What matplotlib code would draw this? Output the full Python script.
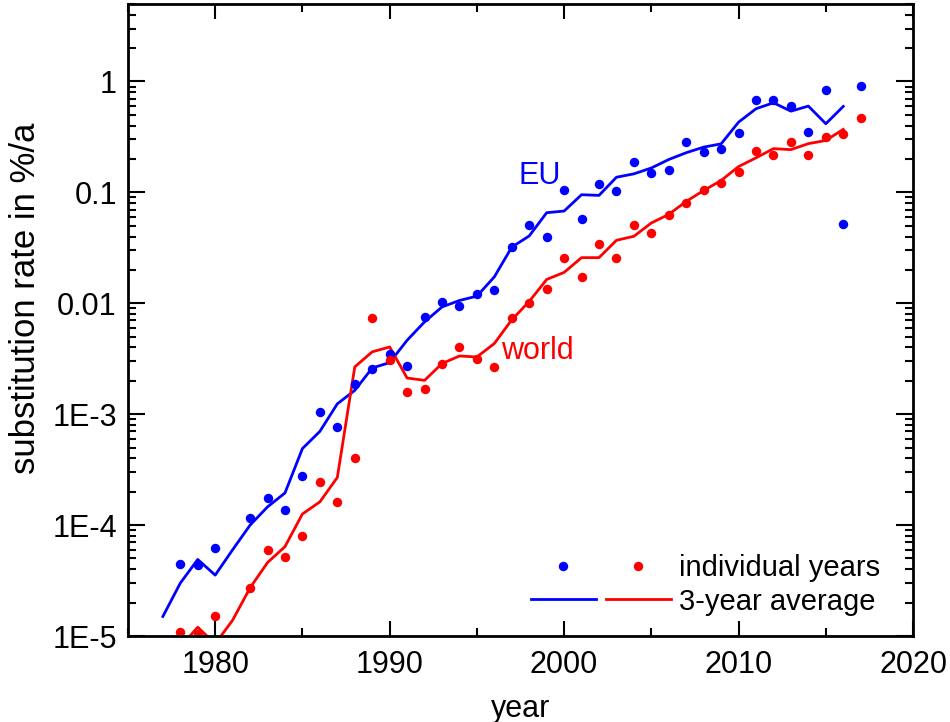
import matplotlib
matplotlib.use('Agg')
import matplotlib.pyplot as plt
from matplotlib.ticker import FixedLocator, LogLocator, NullFormatter, MultipleLocator
from matplotlib.legend_handler import HandlerTuple

plt.rcParams['font.family'] = ['Liberation Sans', 'DejaVu Sans']

# individual years (dots)
eu_years = [1978, 1979, 1980, 1982, 1983, 1984, 1985, 1986, 1987, 1988, 1989, 1990,
            1991, 1992, 1993, 1994, 1995, 1996, 1997, 1998, 1999, 2000, 2001, 2002,
            2003, 2004, 2005, 2006, 2007, 2008, 2009, 2010, 2011, 2012, 2013, 2014,
            2015, 2016, 2017]
eu_rate = [4.45e-5, 4.36e-5, 6.24e-5, 1.17e-4, 1.74e-4, 1.36e-4, 2.78e-4, 1.05e-3,
           7.7e-4, 1.86e-3, 2.58e-3, 3.52e-3, 2.72e-3, 7.53e-3, 1.03e-2, 9.5e-3,
           1.22e-2, 1.31e-2, 3.21e-2, 5.08e-2, 3.93e-2, 0.106, 5.75e-2, 0.12, 0.102,
           0.187, 0.150, 0.158, 0.284, 0.231, 0.246, 0.340, 0.684, 0.674, 0.604,
           0.352, 0.841, 5.22e-2, 0.902]

world_years = [1978, 1979, 1980, 1982, 1983, 1984, 1985, 1986, 1987, 1988, 1989, 1990,
               1991, 1992, 1993, 1994, 1995, 1996, 1997, 1998, 1999, 2000, 2001, 2002,
               2003, 2004, 2005, 2006, 2007, 2008, 2009, 2010, 2011, 2012, 2013, 2014,
               2015, 2016, 2017]
world_rate = [1.08e-5, 1.05e-5, 1.51e-5, 2.72e-5, 5.96e-5, 5.18e-5, 8.0e-5, 2.45e-4,
              1.6e-4, 4.04e-4, 7.37e-3, 3.11e-3, 1.58e-3, 1.68e-3, 2.86e-3, 4.02e-3,
              3.13e-3, 2.65e-3, 7.37e-3, 1.01e-2, 1.35e-2, 2.56e-2, 1.73e-2, 3.40e-2,
              2.56e-2, 5.12e-2, 4.30e-2, 6.21e-2, 8.01e-2, 0.106, 0.121, 0.152, 0.236,
              0.219, 0.284, 0.219, 0.318, 0.338, 0.471]

# 3-year averages (lines)
eu_avg_years = list(range(1977, 2017))
eu_avg = [1.5e-5, 3.0e-5, 4.9e-5, 3.54e-5, 6.0e-5, 1.0e-4, 1.46e-4, 1.95e-4, 4.9e-4,
          7.0e-4, 1.24e-3, 1.64e-3, 2.61e-3, 2.92e-3, 4.64e-3, 6.8e-3, 9.27e-3,
          1.06e-2, 1.16e-2, 1.73e-2, 3.21e-2, 4.05e-2, 6.56e-2, 6.79e-2, 9.53e-2,
          9.4e-2, 0.137, 0.147, 0.166, 0.198, 0.228, 0.256, 0.274, 0.43, 0.568,
          0.643, 0.54, 0.60, 0.416, 0.596]

world_avg_years = list(range(1977, 2017))
world_avg = [6e-6, 8e-6, 1.2e-5, 8.5e-6, 1.39e-5, 2.72e-5, 4.6e-5, 6.4e-5, 1.26e-4,
             1.62e-4, 2.69e-4, 2.67e-3, 3.65e-3, 4.04e-3, 2.12e-3, 2.02e-3, 2.86e-3,
             3.35e-3, 3.28e-3, 4.34e-3, 7.1e-3, 1.04e-2, 1.64e-2, 1.9e-2, 2.58e-2,
             2.58e-2, 3.7e-2, 4.02e-2, 5.3e-2, 6.34e-2, 8.3e-2, 0.104, 0.128, 0.171,
             0.205, 0.248, 0.243, 0.275, 0.294, 0.37]

blue = '#0000ff'
red = '#ff0000'
fs = 22

fig = plt.figure(figsize=(9.5, 7.22), dpi=100)
ax = fig.add_axes([0.1347, 0.1191, 0.9611 - 0.1347, 0.9945 - 0.1191])

eu_line, = ax.plot(eu_avg_years, eu_avg, color=blue, lw=2.0)
w_line, = ax.plot(world_avg_years, world_avg, color=red, lw=2.0)
eu_dots, = ax.plot(eu_years, eu_rate, 'o', color=blue, ms=6.8, mew=0)
w_dots, = ax.plot(world_years, world_rate, 'o', color=red, ms=6.8, mew=0)

ax.set_yscale('log')
ax.set_xlim(1975, 2020)
ax.set_ylim(1e-5, 5)

ax.xaxis.set_major_locator(MultipleLocator(10))
ax.xaxis.set_minor_locator(MultipleLocator(5))
ax.yaxis.set_major_locator(FixedLocator([1e-5, 1e-4, 1e-3, 1e-2, 1e-1, 1]))
ax.yaxis.set_minor_locator(LogLocator(base=10, subs=range(2, 10), numticks=20))
ax.yaxis.set_minor_formatter(NullFormatter())
ax.set_yticklabels(['1E-5', '1E-4', '1E-3', '0.01', '0.1', '1'])

ax.tick_params(which='both', direction='in', top=True, right=True, labelsize=fs, width=1.5)
ax.tick_params(axis='x', which='major', length=11, pad=10)
ax.tick_params(axis='x', which='minor', length=6)
ax.tick_params(axis='y', which='major', length=12, pad=8)
ax.tick_params(axis='y', which='minor', length=6)
for s in ax.spines.values():
    s.set_linewidth(2)

ax.set_xlabel('year', fontsize=fs, labelpad=10)
ax.set_ylabel('substitution rate in %/a', fontsize=25)
ax.yaxis.set_label_coords(-0.11, 0.535)

ax.text(1998.6, 0.142, 'EU', color=blue, fontsize=fs, ha='center', va='center')
ax.text(1996.4, 3.7e-3, 'world', color=red, fontsize=fs, ha='left', va='center')

ax.legend([(eu_dots, w_dots), (eu_line, w_line)], ['individual years', '3-year average'],
          handler_map={tuple: HandlerTuple(ndivide=None, pad=0.35)},
          loc='lower right', bbox_to_anchor=(0.966, 0.023), frameon=False, fontsize=21,
          handlelength=4.8, handletextpad=0.3, labelspacing=0.2, borderaxespad=0.0,
          borderpad=0.2)

fig.savefig('out.png', dpi=100)
